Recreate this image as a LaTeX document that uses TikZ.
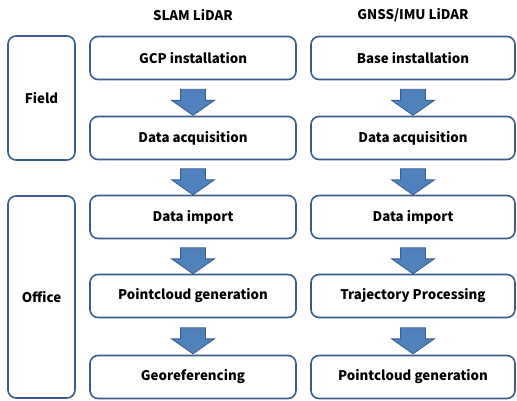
\documentclass[tikz,border=0pt]{standalone}
\usepackage{fontspec}
\setmainfont{Noto Sans CJK KR}
\definecolor{edgeblue}{RGB}{56, 93, 138}
\definecolor{arrblue}{RGB}{79, 129, 189}
\usetikzlibrary{shapes.arrows, calc}

\begin{document}
\begin{tikzpicture}[
  x=1pt, y=-1pt,
  step box/.style={draw=edgeblue, line width=1.6pt, rounded corners=8pt, fill=white,
    minimum width=206pt, minimum height=43pt, font=\bfseries\fontsize{13.3}{15}\selectfont},
  phase/.style={draw=edgeblue, line width=1.6pt, rounded corners=8pt, fill=white,
    minimum width=67pt, font=\bfseries\fontsize{13.3}{15}\selectfont},
  head/.style={font=\bfseries\fontsize{13.3}{15}\selectfont},
  down/.style={single arrow, draw=edgeblue, fill=arrblue, line width=0.8pt, rotate=-90,
    minimum height=26pt, inner xsep=0pt, inner ysep=12pt,
    single arrow head extend=9pt, single arrow tip angle=110}
]
  \useasboundingbox (0,0) rectangle (517,401);

  % column headings
  \node[head] (hs) at (193, 15) {SLAM LiDAR};
  \node[head] (hg) at (413, 15) {GNSS/IMU LiDAR};

  % phases
  \node[phase, minimum height=124pt] (field) at (41.5, 98) {Field};
  \node[phase, minimum height=202pt] (office) at (41.5, 297) {Office};

  % SLAM workflow
  \node[step box] (s1) at (193, 58) {GCP installation};
  \node[step box] (s2) at (193, 138) {Data acquisition};
  \node[step box] (s3) at (193, 217) {Data import};
  \node[step box] (s4) at (193, 296) {Pointcloud generation};
  \node[step box] (s5) at (193, 377) {Georeferencing};

  % GNSS/IMU workflow
  \node[step box, minimum width=204pt] (g1) at (413, 58) {Base installation};
  \node[step box, minimum width=204pt] (g2) at (413, 138) {Data acquisition};
  \node[step box, minimum width=204pt] (g3) at (413, 217) {Data import};
  \node[step box, minimum width=204pt] (g4) at (413, 296) {Trajectory Processing};
  \node[step box, minimum width=204pt] (g5) at (413, 377) {Pointcloud generation};

  % block arrows between steps
  \foreach \c in {s, g} {
    \foreach \i/\j in {1/2, 2/3, 3/4, 4/5} {
      \node[down] (\c a\i) at ($(\c\i.south)!0.5!(\c\j.north)$) {};
    }
  }
\end{tikzpicture}
\end{document}
